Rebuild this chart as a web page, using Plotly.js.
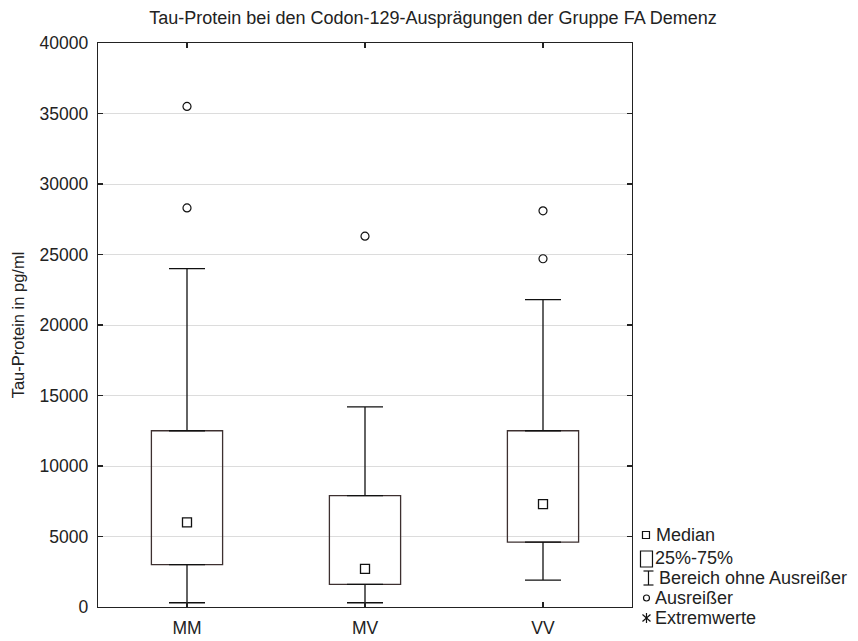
<!DOCTYPE html>
<html>
<head>
<meta charset="utf-8">
<script src="https://cdn.plot.ly/plotly-3.0.1.min.js"></script>
<style>html,body{margin:0;padding:0;background:#fff;}#chart{width:858px;height:641px;}</style>
</head>
<body>
<div id="chart"></div>
<script>
// ---- data ----
var categories = ["MM", "MV", "VV"];
var lowerWhisker = [300, 300, 1900];
var q1Values = [3000, 1600, 4600];
var medianValues = [6000, 2700, 7300];
var q3Values = [12500, 7900, 12500];
var upperWhisker = [24000, 14200, 21800];
var outlierCats = ["MM", "MM", "MV", "VV", "VV"];
var outlierValues = [35500, 28300, 26300, 28100, 24700];
var yTickVals = [0, 5000, 10000, 15000, 20000, 25000, 30000, 35000, 40000];

var titleText = "Tau-Protein bei den Codon-129-Ausprägungen der Gruppe FA Demenz";
var yTitle = "Tau-Protein in pg/ml";
var legendLabels = ["Median", "25%-75%", "Bereich ohne Ausreißer", "Ausreißer", "Extremwerte"];

// ---- styling ----
var FONT = "Liberation Sans, Arial, sans-serif";
var TXT = "#222";
var boxColor = "#3d3030";
var lineColor = "#111111";

var traces = [];
// IQR boxes as bars from q1 to q3
traces.push({
  type: "bar",
  x: categories,
  base: q1Values,
  y: q3Values.map(function (v, i) { return v - q1Values[i]; }),
  width: 0.4,
  marker: {color: "rgba(255,255,255,0)", line: {color: boxColor, width: 1.3}},
  hoverinfo: "skip",
  showlegend: false
});
// upper whiskers
traces.push({
  type: "scatter", mode: "markers",
  x: categories, y: q3Values,
  marker: {opacity: 0, size: 1},
  error_y: {type: "data", symmetric: false,
    array: upperWhisker.map(function (v, i) { return v - q3Values[i]; }),
    arrayminus: q3Values.map(function () { return 0; }),
    width: 18, thickness: 1.3, color: lineColor},
  showlegend: false, hoverinfo: "skip"
});
// lower whiskers
traces.push({
  type: "scatter", mode: "markers",
  x: categories, y: q1Values,
  marker: {opacity: 0, size: 1},
  error_y: {type: "data", symmetric: false,
    array: q1Values.map(function () { return 0; }),
    arrayminus: q1Values.map(function (v, i) { return v - lowerWhisker[i]; }),
    width: 18, thickness: 1.3, color: lineColor},
  showlegend: false, hoverinfo: "skip"
});
// medians
traces.push({
  type: "scatter", mode: "markers",
  x: categories, y: medianValues,
  marker: {symbol: "square-open", size: 9, color: lineColor, line: {width: 1.3}},
  showlegend: false
});
// outliers
traces.push({
  type: "scatter", mode: "markers",
  x: outlierCats, y: outlierValues,
  marker: {symbol: "circle-open", size: 8, color: lineColor, line: {width: 1.2}},
  showlegend: false
});

// ---- legend (drawn beside the plot) ----
var L = 98, R = 632.5, T = 43, B = 607;
function px(x) { return (x - L) / (R - L); }
function py(y) { return (B - y) / (B - T); }
var legendY = [535, 558, 578, 598, 618];
var legendTextX = [655, 654, 658, 654, 654];
var annotations = legendLabels.map(function (t, i) {
  return {text: t, xref: "paper", yref: "paper", x: px(legendTextX[i]), y: py(legendY[i]),
    xanchor: "left", yanchor: "middle", showarrow: false,
    font: {family: FONT, size: 18, color: TXT}};
});
var ls = {color: lineColor, width: 1.2};
var shapes = [
  {type: "rect", xref: "paper", yref: "paper", x0: px(643), x1: px(650), y0: py(531.5), y1: py(538.5), line: ls},
  {type: "rect", xref: "paper", yref: "paper", x0: px(641), x1: px(653), y0: py(551), y1: py(567), line: ls},
  {type: "line", xref: "paper", yref: "paper", x0: px(649), x1: px(649), y0: py(571), y1: py(585), line: ls},
  {type: "line", xref: "paper", yref: "paper", x0: px(644), x1: px(654), y0: py(571), y1: py(571), line: ls},
  {type: "line", xref: "paper", yref: "paper", x0: px(644), x1: px(654), y0: py(585), y1: py(585), line: ls},
  {type: "circle", xref: "paper", yref: "paper", x0: px(644), x1: px(650), y0: py(595), y1: py(601), line: ls},
  {type: "line", xref: "paper", yref: "paper", x0: px(647), x1: px(647), y0: py(613), y1: py(623), line: ls},
  {type: "line", xref: "paper", yref: "paper", x0: px(643), x1: px(651), y0: py(614.5), y1: py(621.5), line: ls},
  {type: "line", xref: "paper", yref: "paper", x0: px(643), x1: px(651), y0: py(621.5), y1: py(614.5), line: ls}
];

var layout = {
  width: 858, height: 641,
  margin: {l: L, r: 858 - R, t: T, b: 641 - B, pad: 0},
  paper_bgcolor: "#ffffff", plot_bgcolor: "#ffffff",
  font: {family: FONT, size: 17.5, color: TXT},
  title: {text: titleText, x: 433 / 858, xanchor: "center", y: 1 - 17.5 / 641, yanchor: "middle", yref: "container",
    font: {family: FONT, size: 18, color: TXT}},
  xaxis: {type: "category", categoryarray: categories, range: [-0.5, 2.5],
    showline: true, linecolor: "#222", linewidth: 1.3, mirror: "ticks",
    ticks: "inside", ticklen: 5, tickwidth: 1.2, tickcolor: "#222",
    ticklabelstandoff: 5,
    showgrid: false, zeroline: false, fixedrange: true,
    tickfont: {family: FONT, size: 17.5, color: TXT}},
  yaxis: {range: [0, 40000], tickvals: yTickVals, ticktext: yTickVals.map(String),
    showline: true, linecolor: "#222", linewidth: 1.3, mirror: "ticks",
    ticks: "inside", ticklen: 5, tickwidth: 1.2, tickcolor: "#222",
    ticklabelstandoff: 5,
    showgrid: true, gridcolor: "#dcdcdc", gridwidth: 1, zeroline: false,
    tickfont: {family: FONT, size: 17.5, color: TXT},
    title: {text: yTitle, font: {family: FONT, size: 16.5, color: TXT}, standoff: 10}},
  bargap: 0,
  annotations: annotations,
  shapes: shapes,
  showlegend: false
};

Plotly.newPlot("chart", traces, layout, {displayModeBar: false, staticPlot: true});
</script>
</body>
</html>
